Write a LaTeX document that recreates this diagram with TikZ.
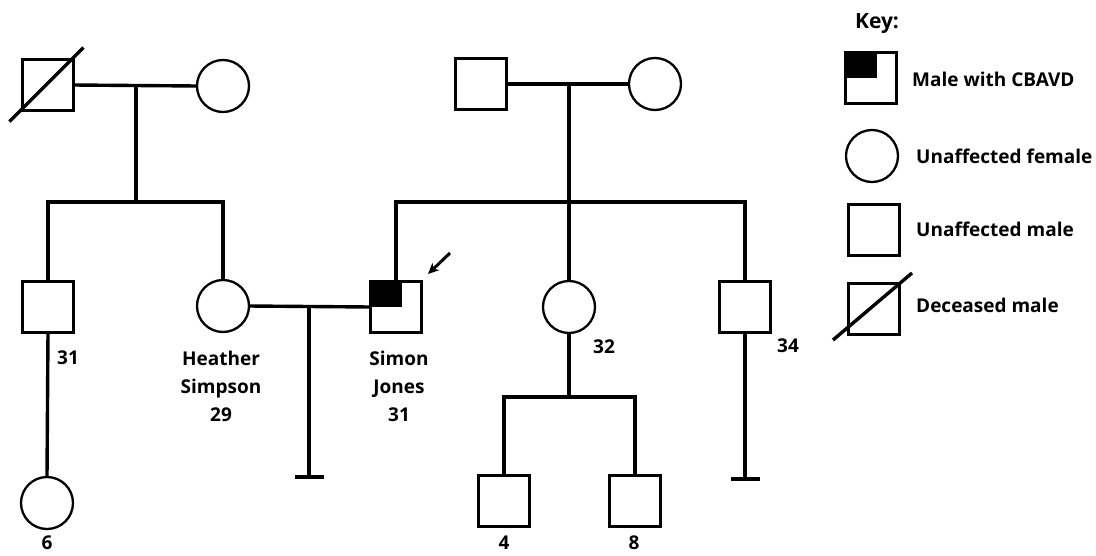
\documentclass[tikz,border=0pt]{standalone}
\usepackage{fontspec}
\setmainfont{Open Sans}
\usetikzlibrary{arrows.meta,calc}
\begin{document}
\begin{tikzpicture}[x=1pt,y=-1pt,
  conn/.style={draw,line width=3.4pt},
  male/.style={draw,rectangle,minimum size=51pt,inner sep=0pt,outer sep=0pt,line width=2.3pt},
  female/.style={draw,circle,minimum size=52pt,inner sep=0pt,outer sep=0pt,line width=2.3pt},
  affected/.style={male,path picture={\fill (path picture bounding box.north west) rectangle ++(31pt,-25pt);}},
  lbl/.style={font=\fontsize{19}{28}\selectfont\bfseries,align=center,inner sep=0pt},
  keytxt/.style={font=\fontsize{19}{24}\selectfont\bfseries,anchor=west,inner sep=0pt}]
\useasboundingbox (0,0) rectangle (1096,555);
% generation I
\node[male] (gf1) at (48,85) {};
\node[female] (gm1) at (223,86) {};
\node[male] (gf2) at (481,84) {};
\node[female] (gm2) at (655,84) {};
\coordinate (d1a) at ($(gf1.south west)+(-13,11)$);
\coordinate (d1b) at ($(gf1.north east)+(10,-12)$);
\draw[conn] (d1a) -- (d1b);
% generation II
\node[male] (u31) at (48,307) {};
\node[female] (heather) at (223,306) {};
\node[affected] (simon) at (396,307) {};
\node[female] (c32) at (569,307) {};
\node[male] (u34) at (745,307) {};
% generation III
\node[female] (d6) at (47,503) {};
\node[male] (n4) at (504,501) {};
\node[male] (n8) at (635,501) {};
% connectors
\coordinate (m1) at (136,85);
\coordinate (s1) at (136,202);
\draw[conn] (gf1.east) -- (gm1.west);
\draw[conn] (m1) -- (s1);
\draw[conn] (u31.north) |- (s1) -| (heather.north);
\coordinate (m2) at (569,84);
\coordinate (s2) at (569,202);
\draw[conn] (gf2.east) -- (gm2.west);
\draw[conn] (m2) -- (c32.north);
\draw[conn] (simon.north) |- (s2) -| (u34.north);
\draw[conn] (u31.south) -- (d6.north);
\draw[conn] (heather.east) -- (simon.west);
\coordinate (m3) at (309,306);
\coordinate (e3) at (309,477);
\coordinate (e3l) at (295,477);
\coordinate (e3r) at (324,477);
\draw[conn] (m3) -- (e3);
\draw[conn] (e3l) -- (e3r);
\coordinate (s3) at (569,397);
\draw[conn] (c32.south) -- (s3);
\draw[conn] (n4.north) |- (s3) -| (n8.north);
\coordinate (e4) at (745,479);
\coordinate (e4l) at (731,479);
\coordinate (e4r) at (760,479);
\draw[conn] (u34.south) -- (e4);
\draw[conn] (e4l) -- (e4r);
% proband arrow
\coordinate (arS) at (450,253);
\coordinate (arT) at (428,274);
\draw[conn,line width=3pt,-{Stealth[length=11pt,width=10pt]}] (arS) -- (arT);
% labels
\node[lbl] (l31) at (68,358) {31};
\node[lbl] (lh) at (221,386) {Heather\\Simpson\\29};
\node[lbl] (ls) at (399,386) {Simon\\Jones\\31};
\node[lbl] (l32) at (604,347) {32};
\node[lbl] (l34) at (788,346) {34};
\node[lbl] (l6) at (47,543) {6};
\node[lbl] (l4) at (504,543) {4};
\node[lbl] (l8) at (634,543) {8};
% key
\node[lbl,font=\fontsize{21}{24}\selectfont\bfseries] (key) at (877,24) {Key:};
\node[affected] (k1) at (871,78) {};
\node[female] (k2) at (872,156) {};
\node[male] (k3) at (874,230) {};
\node[male] (k4) at (874,309) {};
\coordinate (k4a) at (833,340);
\coordinate (k4b) at (912,273);
\draw[conn] (k4a) -- (k4b);
\node[keytxt] (t1) at (912,79) {Male with CBAVD};
\node[keytxt] (t2) at (916,156) {Unaffected female};
\node[keytxt] (t3) at (916,229) {Unaffected male};
\node[keytxt] (t4) at (916,305) {Deceased male};
\end{tikzpicture}
\end{document}
